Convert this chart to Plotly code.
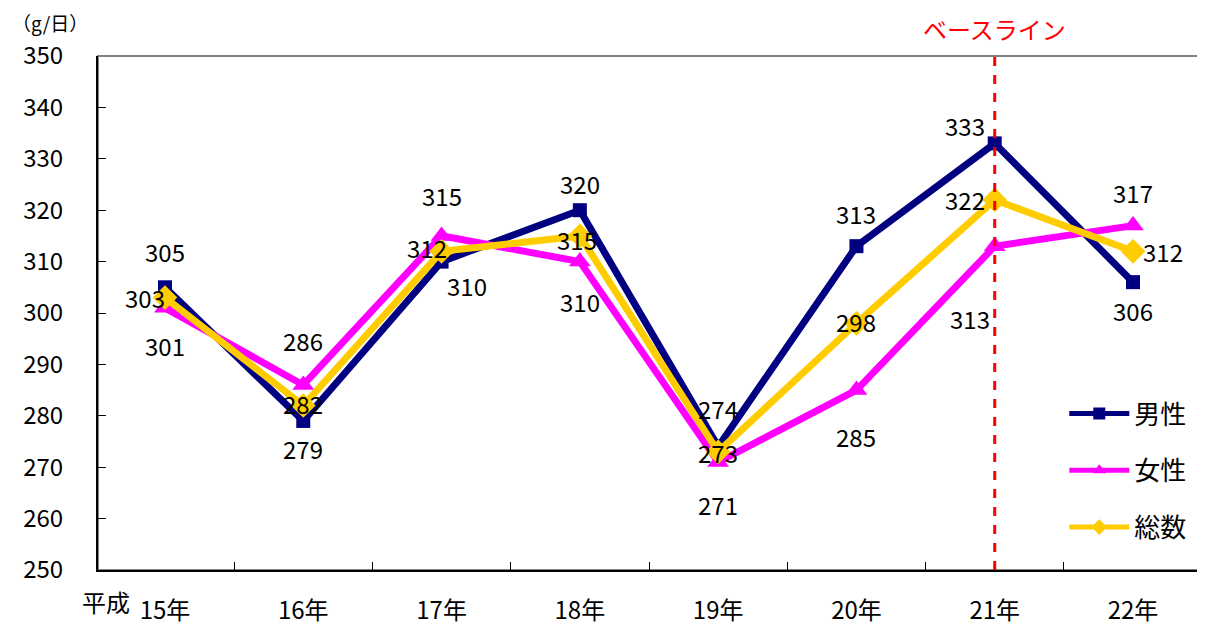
import plotly.graph_objects as go

categories = ["15年", "16年", "17年", "18年", "19年", "20年", "21年", "22年"]
male = [305, 279, 310, 320, 274, 313, 333, 306]
female = [301, 286, 315, 310, 271, 285, 313, 317]
total = [303, 282, 312, 315, 273, 298, 322, 312]
y_ticks = list(range(250, 351, 10))

# label offsets (px) per point: (dx, dy) with dy positive = up
male_off = [(0, 36), (0, -28), (25, -24), (0, 27), (0, 38), (0, 33), (-30, 18), (0, -28)]
female_off = [(0, -38), (0, 44), (0, 40), (0, -40), (0, -42), (0, -46), (-25, -72), (0, 33)]
total_off = [(-20, 0), (0, 2), (-15, 4), (-3, -4), (0, -1), (0, 2), (-30, 0), (30, 0)]

FONT = "Noto Sans CJK JP"
fig = go.Figure()
fig.add_trace(go.Scatter(x=categories, y=male, name="男性", mode="lines+markers", legendgroup="m",
                         line=dict(color="#000080", width=7),
                         marker=dict(symbol="square", size=14, color="#000080")))
fig.add_trace(go.Scatter(x=categories, y=female, name="女性", mode="lines+markers", legendgroup="f",
                         line=dict(color="#FF00FF", width=7),
                         marker=dict(symbol="triangle-up", size=19, color="#FF00FF")))
fig.add_trace(go.Scatter(x=categories, y=total, name="総数", mode="lines+markers", legendgroup="t",
                         line=dict(color="#FFCC00", width=7),
                         marker=dict(symbol="diamond", size=19, color="#FFCC00")))

anns = []
for vals, offs in ((male, male_off), (female, female_off), (total, total_off)):
    for c, v, (dx, dy) in zip(categories, vals, offs):
        anns.append(dict(x=c, y=v, xref="x", yref="y", text=str(v), showarrow=False,
                         xshift=dx, yshift=dy, font=dict(family=FONT, size=24, color="black")))
anns.append(dict(x="21年", y=1, xref="x", yref="paper", yanchor="bottom", yshift=8, text="ベースライン",
                 showarrow=False, font=dict(family=FONT, size=24, color="red")))
anns.append(dict(x=0, y=1, xref="paper", yref="paper", xanchor="left", yanchor="bottom",
                 text="（g/日）", showarrow=False, xshift=-88, yshift=18,
                 font=dict(family=FONT, size=19, color="black")))
anns.append(dict(x=0, y=0, xref="paper", yref="paper", xanchor="right", yanchor="top",
                 text="平成", showarrow=False, xshift=34, yshift=-12,
                 font=dict(family=FONT, size=24, color="black")))

fig.update_layout(
    width=1197, height=623,
    margin=dict(l=90, r=5, t=48, b=61),
    paper_bgcolor="white", plot_bgcolor="white",
    font=dict(family=FONT, size=24, color="black"),
    annotations=anns,
    shapes=[
        dict(type="rect", xref="paper", yref="paper", x0=0, x1=1, y0=0, y1=1,
             line=dict(color="#808080", width=2), layer="below"),
        dict(type="line", xref="x", yref="paper", x0="21年", x1="21年", y0=0, y1=1,
             line=dict(color="red", width=3, dash="dash")),
    ],
    legend=dict(x=0.993, y=0.35, xanchor="right", yanchor="top",
                bgcolor="rgba(0,0,0,0)", tracegroupgap=20, traceorder="grouped",
                itemwidth=60, itemsizing="constant",
                font=dict(family=FONT, size=26, color="black")),
    showlegend=True,
)
fig.update_xaxes(type="category", showline=True, linecolor="black", linewidth=2,
                 ticks="inside", tickson="boundaries", ticklen=8, tickcolor="black",
                 showgrid=False, ticklabelstandoff=18, tickfont=dict(size=24))
fig.update_yaxes(range=[250, 350], tickvals=y_ticks, showline=True, linecolor="black", linewidth=2,
                 ticks="inside", ticklen=8, tickcolor="black", showgrid=False,
                 ticklabelstandoff=28, tickfont=dict(size=24), zeroline=False)
fig.write_html("out.html")
